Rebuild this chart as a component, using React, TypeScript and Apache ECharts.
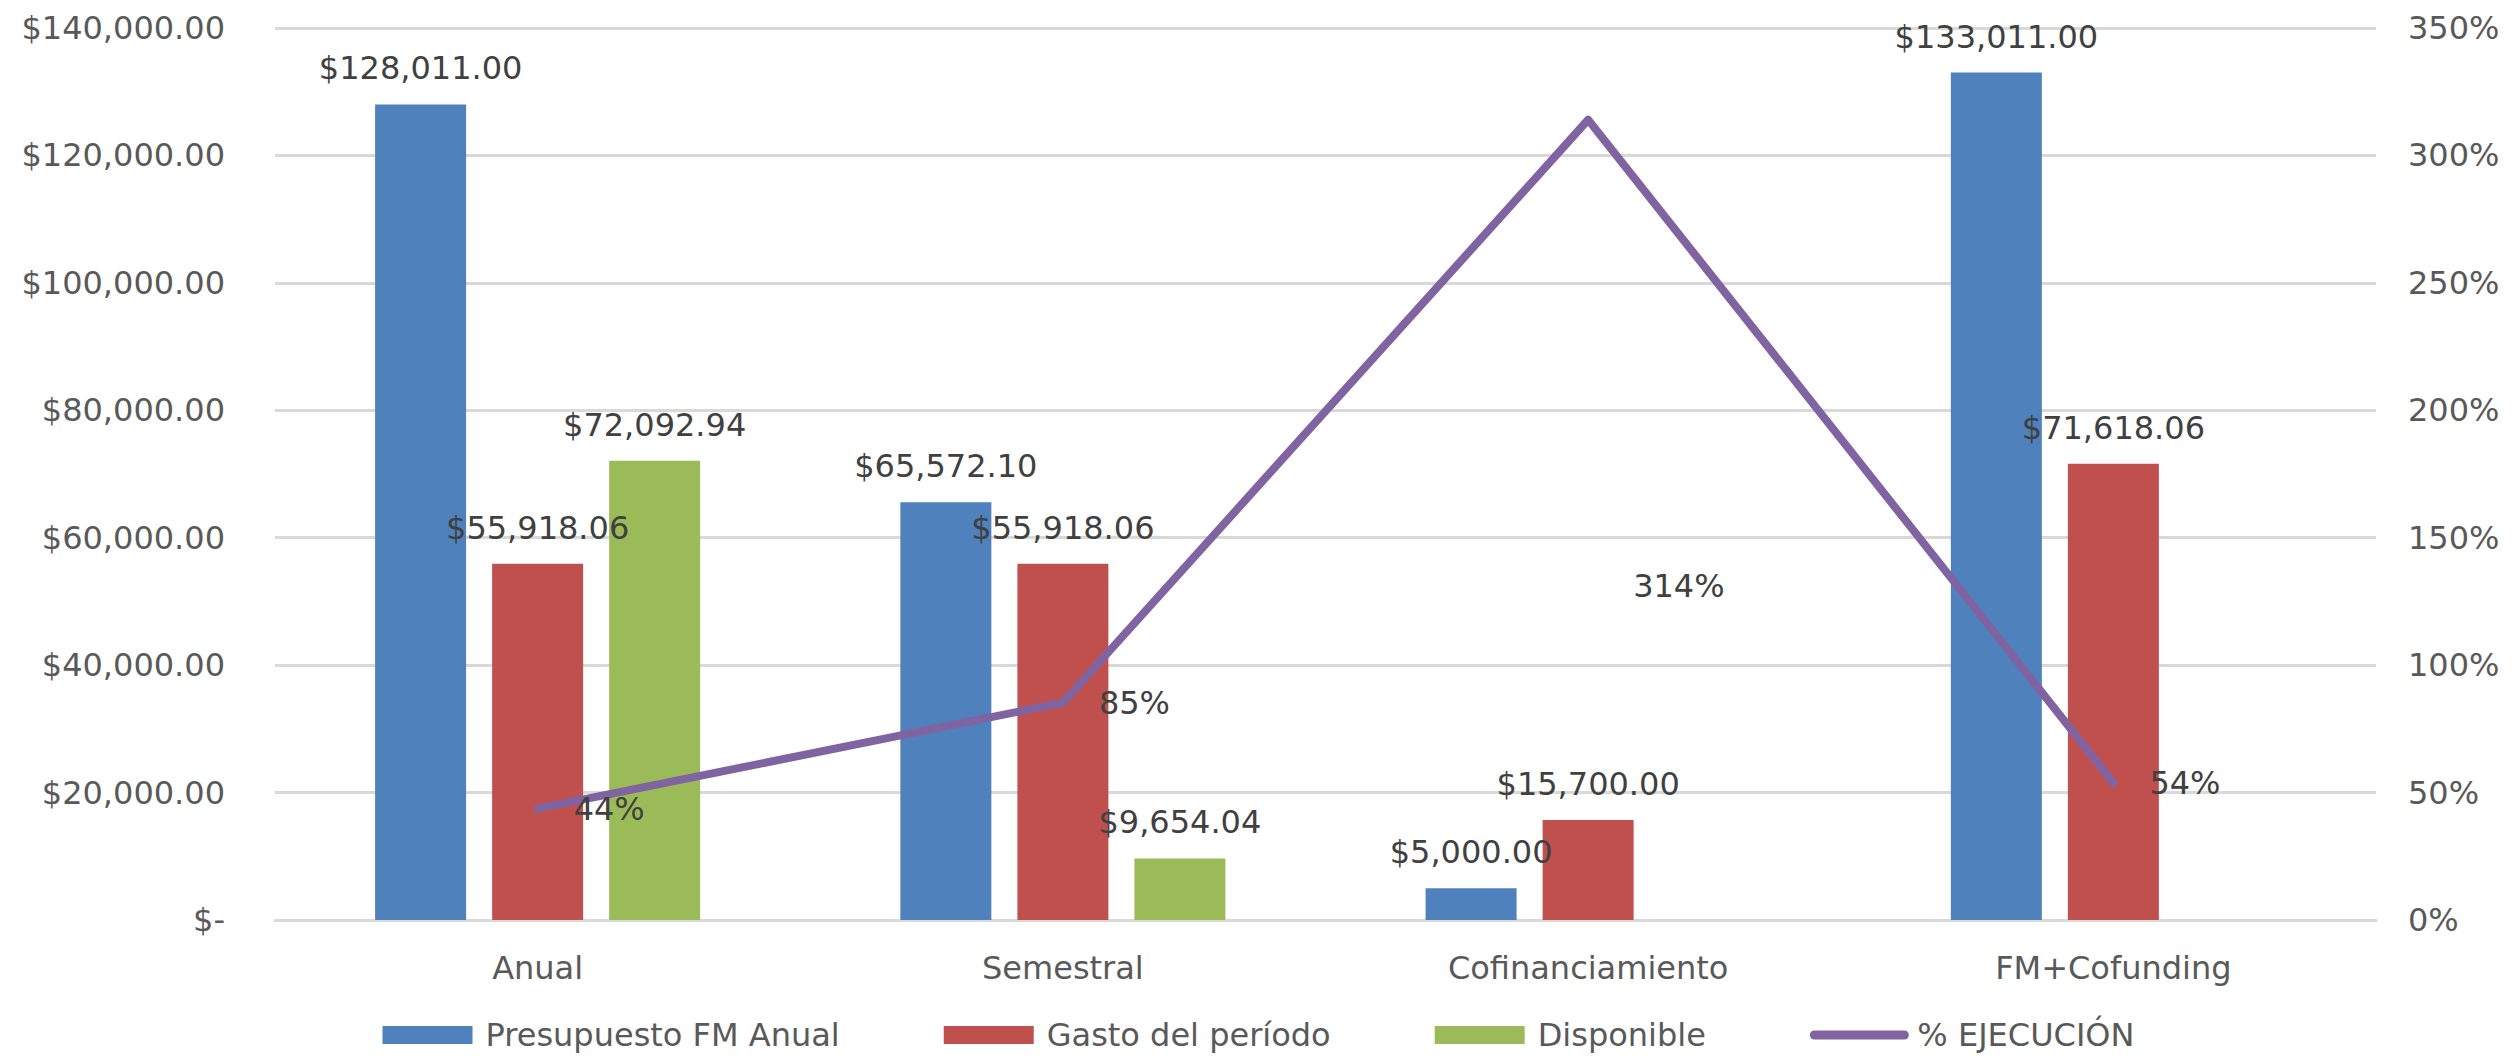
import React, { useEffect, useRef } from "react";
import * as echarts from "echarts";

const categories = ["Anual", "Semestral", "Cofinanciamiento", "FM+Cofunding"];
const presupuesto = [128011.0, 65572.1, 5000.0, 133011.0];
const gasto = [55918.06, 55918.06, 15700.0, 71618.06];
const disponible: (number | null)[] = [72092.94, 9654.04, null, null];
const ejecucion = [0.4368, 0.8528, 3.14, 0.5384];

const seriesNames = ["Presupuesto FM Anual", "Gasto del período", "Disponible", "% EJECUCIÓN"];
const moneyTicks = { min: 0, max: 140000, interval: 20000 };
const pctTicks = { min: 0, max: 3.5, interval: 0.5 };

const FONT = "DejaVu Sans";
const AXIS_COLOR = "#595959";
const LABEL_COLOR = "#404040";

const money = (v: number) =>
  "$" + v.toLocaleString("en-US", { minimumFractionDigits: 2, maximumFractionDigits: 2 });

export default function App() {
  const ref = useRef<HTMLDivElement>(null);
  useEffect(() => {
    if (!ref.current) return;
    const chart = echarts.init(ref.current, undefined, { renderer: "svg" });
    const barLabel = {
      show: true,
      position: "top",
      distance: 20,
      fontFamily: FONT,
      fontSize: 32,
      color: LABEL_COLOR,
      formatter: (p: any) => money(p.value),
    };
    chart.setOption({
      animation: false,
      backgroundColor: "#ffffff",
      textStyle: { fontFamily: FONT },
      grid: { left: 275, right: 141, top: 28, bottom: 141, containLabel: false },
      legend: {
        left: "center",
        top: 1018,
        padding: 0,
        itemWidth: 90,
        itemHeight: 18,
        itemGap: 104,
        textStyle: {
          fontFamily: FONT,
          fontSize: 32,
          lineHeight: 34,
          color: AXIS_COLOR,
          padding: [0, 0, 0, 8],
        },
        data: [
          { name: seriesNames[0], icon: "rect" },
          { name: seriesNames[1], icon: "rect" },
          { name: seriesNames[2], icon: "rect" },
          {
            name: seriesNames[3],
            itemStyle: { opacity: 0 },
            lineStyle: { width: 9, cap: "round", color: "#8064A2" },
          },
        ],
      },
      xAxis: {
        type: "category",
        data: categories,
        axisTick: { show: false },
        axisLine: { show: true, lineStyle: { color: "#D9D9D9", width: 3 } },
        axisLabel: { fontFamily: FONT, fontSize: 32, color: AXIS_COLOR, margin: 32 },
      },
      yAxis: [
        {
          type: "value",
          ...moneyTicks,
          axisLine: { show: false },
          axisTick: { show: false },
          splitLine: { show: true, lineStyle: { color: "#D9D9D9", width: 3 } },
          axisLabel: {
            fontFamily: FONT,
            fontSize: 32,
            color: AXIS_COLOR,
            margin: 50,
            formatter: (v: number) => (v === 0 ? "$-" : money(v)),
          },
        },
        {
          type: "value",
          ...pctTicks,
          position: "right",
          axisLine: { show: false },
          axisTick: { show: false },
          splitLine: { show: false },
          axisLabel: {
            fontFamily: FONT,
            fontSize: 32,
            color: AXIS_COLOR,
            margin: 32,
            align: "left",
            formatter: (v: number) => Math.round(v * 100) + "%",
          },
        },
      ],
      series: [
        {
          name: seriesNames[0],
          type: "bar",
          data: presupuesto,
          barWidth: 91,
          barGap: "28.6%",
          itemStyle: { color: "#4F81BD" },
          label: barLabel,
        },
        {
          name: seriesNames[1],
          type: "bar",
          data: gasto,
          barWidth: 91,
          barGap: "28.6%",
          itemStyle: { color: "#C0504D" },
          label: barLabel,
        },
        {
          name: seriesNames[2],
          type: "bar",
          data: disponible,
          barWidth: 91,
          barGap: "28.6%",
          itemStyle: { color: "#9BBB59" },
          label: barLabel,
        },
        {
          name: seriesNames[3],
          type: "line",
          yAxisIndex: 1,
          z: 5,
          data: ejecucion.map((v, i) =>
            i === 2 ? { value: v, label: { offset: [9, 466] } } : v
          ),
          symbol: "circle",
          symbolSize: 2,
          showSymbol: true,
          itemStyle: { color: "#8064A2" },
          lineStyle: { color: "#8064A2", width: 8, cap: "round", join: "round" },
          label: {
            show: true,
            position: "right",
            distance: 35,
            fontFamily: FONT,
            fontSize: 32,
            color: LABEL_COLOR,
            formatter: (p: any) => Math.round(p.value * 100) + "%",
          },
        },
      ],
    });
    return () => chart.dispose();
  }, []);
  return (
    <div
      ref={ref}
      style={{ position: "absolute", left: 0, top: 0, width: 2517, height: 1061 }}
    />
  );
}
